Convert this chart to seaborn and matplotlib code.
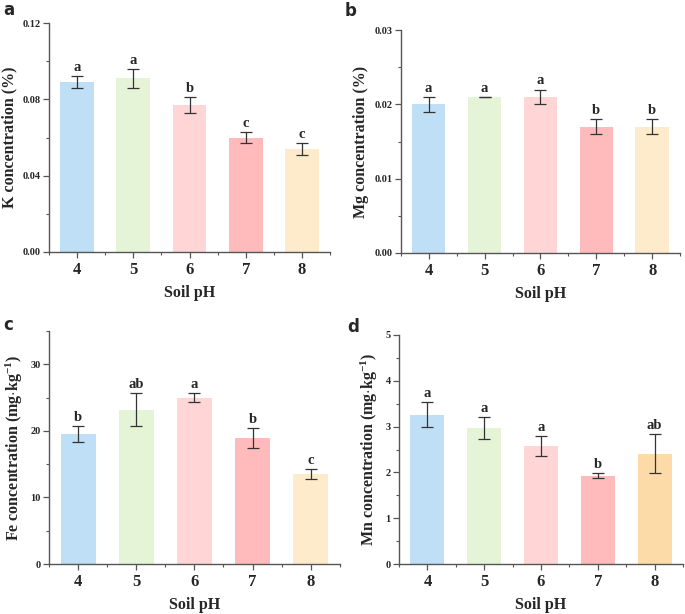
import numpy as np
import pandas as pd
import seaborn as sb
import matplotlib.pyplot as plt
from matplotlib.ticker import AutoMinorLocator, FixedLocator, MultipleLocator

ph = ['4', '5', '6', '7', '8']

k_mean = [0.089, 0.091, 0.077, 0.060, 0.054]
k_err = [0.003, 0.005, 0.004, 0.003, 0.003]
k_sig = ['a', 'a', 'b', 'c', 'c']

mg_mean = [0.020, 0.021, 0.021, 0.017, 0.017]
mg_err = [0.001, 0.0, 0.001, 0.001, 0.001]
mg_sig = ['a', 'a', 'a', 'b', 'b']

fe_mean = [19.55, 23.2, 25.0, 18.9, 13.5]
fe_err = [1.2, 2.5, 0.65, 1.55, 0.8]
fe_sig = ['b', 'ab', 'a', 'b', 'c']

mn_mean = [3.26, 2.97, 2.58, 1.93, 2.41]
mn_err = [0.27, 0.23, 0.22, 0.05, 0.43]
mn_sig = ['a', 'a', 'a', 'b', 'ab']

pal_1 = ['#BEDFF6', '#E5F4D7', '#FFD5D6', '#FFBABB', '#FEEBCB']
pal_2 = ['#BEDFF6', '#E5F4D7', '#FFD5D6', '#FFBABB', '#FDDBA9']

sb.set_style('ticks')
plt.rcParams['font.family'] = ['Liberation Serif', 'DejaVu Serif']
plt.rcParams['mathtext.fontset'] = 'custom'
plt.rcParams['mathtext.rm'] = 'Liberation Serif:bold'
plt.rcParams['mathtext.it'] = 'Liberation Serif:bold'
plt.rcParams['mathtext.bf'] = 'Liberation Serif:bold'

fig = plt.figure(figsize=(6.85, 6.14), dpi=100)

panels = [
    # letter, axes rect, letter position (px), means, errs, sig, ylabel, ymax, step, palette, fmt
    ('a', [0.0715, 0.5896, 0.4105, 0.3729], (3, 1), k_mean, k_err, k_sig, 'K concentration (%)', 0.12, 0.04, pal_1, '%.2f'),
    ('b', [0.585, 0.588, 0.408, 0.363], (345, 2), mg_mean, mg_err, mg_sig, 'Mg concentration (%)', 0.03, 0.01, pal_1, '%.2f'),
    ('c', [0.0715, 0.0814, 0.4245, 0.3796], (3, 316), fe_mean, fe_err, fe_sig, r'Fe concentration (mg$\cdot$kg$^{-1}$)', 35, 10, pal_1, '%d'),
    ('d', [0.5825, 0.0814, 0.4145, 0.373], (347, 318), mn_mean, mn_err, mn_sig, r'Mn concentration (mg$\cdot$kg$^{-1}$)', 5, 1, pal_2, '%d'),
]

for letter, rect, lpos, mean, err, sig, ylabel, ymax, step, pal, fmt in panels:
    ax = fig.add_axes(rect)
    df = pd.DataFrame({'pH': ph, 'value': mean})
    sb.barplot(data=df, x='pH', y='value', hue='pH', palette=pal, legend=False,
               width=0.6, errorbar=None, saturation=1, ax=ax, linewidth=0)
    ax.errorbar(range(len(ph)), mean, yerr=err, fmt='none', ecolor='#333333',
                elinewidth=0.9, capsize=4, capthick=0.9)
    for i, s in enumerate(sig):
        ax.annotate(s, (i, mean[i] + err[i]), xytext=(0, 1.5), textcoords='offset points',
                    ha='center', va='bottom', fontsize=10.5, fontweight='bold')
    ax.set_xlim(-0.5, 4.5)
    ax.set_ylim(0, ymax)
    ax.yaxis.set_major_locator(MultipleLocator(step))
    ax.yaxis.set_minor_locator(AutoMinorLocator(2))
    ax.yaxis.set_major_formatter(plt.FormatStrFormatter(fmt))
    ax.xaxis.set_minor_locator(FixedLocator([-0.5, 0.5, 1.5, 2.5, 3.5, 4.5]))
    sb.despine(ax=ax)
    for sp in ['left', 'bottom']:
        ax.spines[sp].set_color('#555555')
        ax.spines[sp].set_linewidth(1.0)
    ax.tick_params(axis='both', which='major', direction='out', length=4, width=0.9, color='#555555')
    ax.tick_params(axis='both', which='minor', direction='out', length=2.5, width=0.8, color='#555555')
    ax.tick_params(axis='y', labelsize=7.5, pad=2)
    ax.tick_params(axis='x', labelsize=12, pad=3)
    for lab in ax.get_xticklabels() + ax.get_yticklabels():
        lab.set_fontweight('bold')
    ax.set_xlabel('Soil pH', fontsize=11.5, fontweight='bold', labelpad=5)
    ax.set_ylabel(ylabel, fontsize=11.5, fontweight='bold', labelpad=4)
    fig.text(lpos[0] / 685, 1 - lpos[1] / 614, letter, fontsize=12,
             fontweight='bold', family='DejaVu Sans', va='top', ha='left')

plt.savefig('out.png', dpi=100)
